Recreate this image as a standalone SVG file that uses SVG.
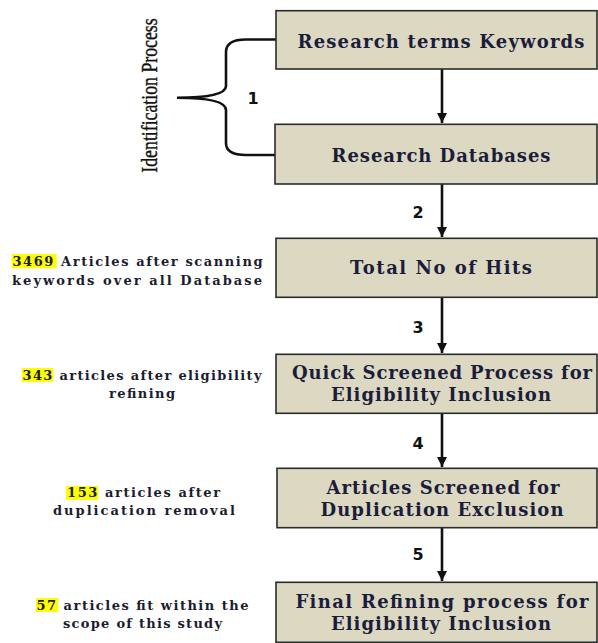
<svg xmlns="http://www.w3.org/2000/svg" width="598" height="643" viewBox="0 0 598 643">
<defs>
<style>
.box{fill:#dcd8c2;stroke:#2b2b2b;stroke-width:1.6}
.bt{font-family:"DejaVu Serif","Liberation Serif",serif;font-weight:bold;font-size:18px;fill:#1b1d3a;text-anchor:middle}
.lt{font-family:"DejaVu Serif","Liberation Serif",serif;font-weight:bold;font-size:13px;fill:#1b1d2e}
.num{font-family:"DejaVu Sans",Verdana,sans-serif;font-weight:bold;font-size:16px;fill:#111;text-anchor:middle}
.hl{fill:#ffff00}
.con{stroke:#111;stroke-width:2.6;fill:none}
</style>
<marker id="ah" markerUnits="userSpaceOnUse" markerWidth="12" markerHeight="10" refX="10" refY="5" orient="auto">
<path d="M0,0 L10,5 L0,10 Z" fill="#111"/>
</marker>
</defs>
<rect width="598" height="643" fill="#fff"/>

<g id="connectors">
<line class="con" x1="442" y1="69" x2="442" y2="123" marker-end="url(#ah)"/>
<line class="con" x1="442" y1="184" x2="442" y2="237" marker-end="url(#ah)"/>
<line class="con" x1="442" y1="298" x2="442" y2="353" marker-end="url(#ah)"/>
<line class="con" x1="442" y1="413" x2="442" y2="467" marker-end="url(#ah)"/>
<line class="con" x1="442" y1="528" x2="442" y2="581" marker-end="url(#ah)"/>
<path class="con" d="M276,39.5 L246,39.5 Q226,39.5 226,52 L226,86 Q226,97.7 177,97.7 Q226,97.7 226,110 L226,143 Q226,155 246,155 L276,155"/>
<text class="num" x="253" y="104">1</text>
<text class="num" x="418" y="218">2</text>
<text class="num" x="418" y="333">3</text>
<text class="num" x="418" y="449">4</text>
<text class="num" x="418" y="560">5</text>
</g>

<g id="identification">
<text transform="translate(157,95.5) rotate(-90) scale(0.74,1)" x="0" y="0" font-family="'Liberation Serif','Times New Roman',serif" font-size="24" fill="#111" stroke="#111" stroke-width="0.4" text-anchor="middle">Identification Process</text>
</g>

<g id="n1">
<rect class="box" x="276" y="10.7" width="321" height="58.3"/>
<text class="bt" x="441" y="47.5" textLength="287" lengthAdjust="spacing">Research terms Keywords</text>
</g>
<g id="n2">
<rect class="box" x="275" y="124.3" width="322" height="59.7"/>
<text class="bt" x="441" y="161.5" textLength="219" lengthAdjust="spacing">Research Databases</text>
</g>
<g id="n3">
<rect class="box" x="276" y="238.3" width="321" height="59"/>
<text class="bt" x="441" y="273.5" textLength="182" lengthAdjust="spacing">Total No of Hits</text>
</g>
<g id="n4">
<rect class="box" x="276" y="354.3" width="321" height="59"/>
<text class="bt" x="442" y="378.5" textLength="300" lengthAdjust="spacing">Quick Screened Process for</text>
<text class="bt" x="441" y="400.5" textLength="220" lengthAdjust="spacing">Eligibility Inclusion</text>
</g>
<g id="n5">
<rect class="box" x="277" y="468.3" width="320" height="59.4"/>
<text class="bt" x="443" y="493.5" textLength="233" lengthAdjust="spacing">Articles Screened for</text>
<text class="bt" x="442" y="515.5" textLength="243" lengthAdjust="spacing">Duplication Exclusion</text>
</g>
<g id="n6">
<rect class="box" x="276" y="582.3" width="321" height="60"/>
<text class="bt" x="442" y="607.5" textLength="293" lengthAdjust="spacing">Final Refining process for</text>
<text class="bt" x="441" y="629.5" textLength="220" lengthAdjust="spacing">Eligibility Inclusion</text>
</g>

<g id="l1">
<rect class="hl" x="11.7" y="254" width="45" height="14.3"/>
<text class="lt" x="12.5" y="266" textLength="250" lengthAdjust="spacing">3469 Articles after scanning</text>
<text class="lt" x="12" y="284.5" textLength="250" lengthAdjust="spacing">keywords over all Database</text>
</g>
<g id="l2">
<rect class="hl" x="21.7" y="368" width="31.6" height="14"/>
<text class="lt" x="22.5" y="379.5" textLength="239" lengthAdjust="spacing">343 articles after eligibility</text>
<text class="lt" x="109" y="398" textLength="66" lengthAdjust="spacing">refining</text>
</g>
<g id="l3">
<rect class="hl" x="66" y="486" width="32.3" height="14"/>
<text class="lt" x="67" y="497" textLength="153" lengthAdjust="spacing">153 articles after</text>
<text class="lt" x="53" y="515" textLength="182" lengthAdjust="spacing">duplication removal</text>
</g>
<g id="l4">
<rect class="hl" x="36" y="598" width="22.3" height="14"/>
<text class="lt" x="36.5" y="609.5" textLength="212" lengthAdjust="spacing">57 articles fit within the</text>
<text class="lt" x="63" y="628" textLength="159" lengthAdjust="spacing">scope of this study</text>
</g>
</svg>
